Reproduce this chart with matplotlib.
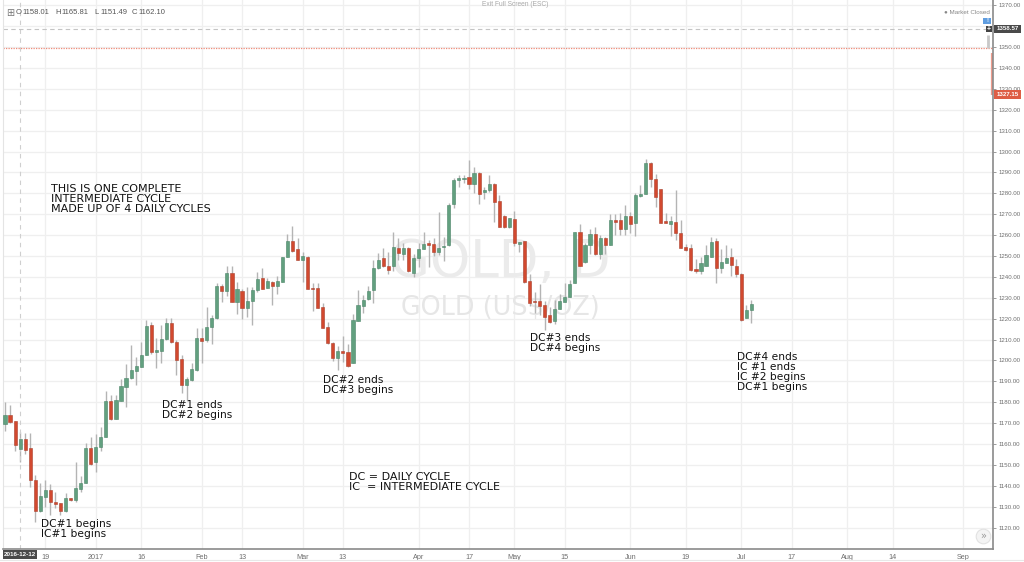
import matplotlib
matplotlib.use("Agg")
import matplotlib.pyplot as plt
from matplotlib.lines import Line2D
from matplotlib.patches import Rectangle

# ---- daily candles (one value per bar) ----
opens = [
    1169.5, 1173.9, 1170.9, 1157.8, 1162.4, 1158.0, 1142.8, 1128.0, 1134.5, 1137.9,
    1132.3, 1131.6, 1127.8, 1134.0, 1133.3, 1138.5, 1141.6, 1158.0, 1151.6, 1158.5,
    1163.6, 1180.5, 1172.2, 1180.8, 1187.5, 1191.5, 1195.1, 1197.0, 1202.8, 1216.8,
    1203.9, 1204.7, 1210.1, 1217.8, 1208.9, 1200.6, 1188.3, 1190.7, 1195.5, 1210.8,
    1209.8, 1215.9, 1220.2, 1235.7, 1233.4, 1241.7, 1228.2, 1233.4, 1225.1, 1228.3,
    1233.5, 1239.5, 1234.8, 1237.5, 1235.5, 1237.7, 1249.7, 1257.0, 1253.2, 1248.2,
    1249.4, 1234.7, 1234.7, 1225.4, 1215.9, 1208.4, 1201.0, 1204.5, 1203.9, 1199.0,
    1219.0, 1226.1, 1229.4, 1233.9, 1244.2, 1248.9, 1245.0, 1245.4, 1253.8, 1250.9,
    1253.8, 1242.0, 1249.2, 1253.5, 1256.0, 1255.9, 1251.9, 1254.1, 1255.2, 1274.9,
    1286.3, 1287.0, 1287.6, 1284.6, 1289.7, 1280.4, 1281.6, 1284.3, 1276.1, 1269.0,
    1263.9, 1267.8, 1255.9, 1257.0, 1237.9, 1228.6, 1228.6, 1226.4, 1221.9, 1218.9,
    1224.8, 1228.1, 1230.5, 1237.1, 1261.3, 1246.9, 1255.2, 1260.3, 1251.1, 1258.4,
    1255.4, 1267.2, 1267.4, 1263.1, 1269.0, 1265.6, 1278.8, 1279.8, 1294.6, 1287.0,
    1281.9, 1266.9, 1265.4, 1266.2, 1260.8, 1254.1, 1253.6, 1243.9, 1242.6, 1245.4,
    1249.7, 1257.0, 1244.2, 1246.8, 1249.3, 1245.0, 1241.5, 1220.5, 1224.1,
]
highs = [
    1180.3, 1178.7, 1171.0, 1166.0, 1165.2, 1165.5, 1145.2, 1141.6, 1142.8, 1140.9,
    1137.3, 1131.6, 1136.4, 1134.2, 1151.3, 1144.7, 1160.4, 1163.6, 1164.7, 1168.3,
    1185.4, 1183.5, 1183.5, 1191.0, 1198.3, 1207.4, 1201.8, 1209.0, 1219.4, 1218.3,
    1210.6, 1217.0, 1220.2, 1220.2, 1209.8, 1202.6, 1192.3, 1199.0, 1215.4, 1215.4,
    1225.8, 1221.8, 1236.9, 1236.6, 1245.2, 1245.2, 1237.4, 1234.2, 1235.0, 1235.0,
    1242.5, 1244.1, 1239.3, 1238.0, 1240.4, 1249.7, 1260.5, 1264.3, 1258.8, 1252.0,
    1250.1, 1237.2, 1237.2, 1227.3, 1218.6, 1209.0, 1206.9, 1211.7, 1207.7, 1222.2,
    1233.7, 1231.3, 1235.6, 1248.1, 1251.6, 1253.7, 1252.0, 1261.3, 1258.4, 1256.4,
    1254.4, 1250.9, 1256.4, 1261.3, 1257.6, 1258.4, 1271.2, 1258.9, 1275.5, 1287.1,
    1288.7, 1288.7, 1295.9, 1292.7, 1290.3, 1283.2, 1288.7, 1284.8, 1279.2, 1269.6,
    1268.2, 1271.5, 1256.8, 1257.3, 1241.4, 1232.9, 1236.6, 1228.6, 1225.7, 1228.9,
    1231.8, 1237.2, 1238.5, 1261.6, 1265.3, 1256.0, 1262.7, 1264.0, 1260.0, 1258.9,
    1269.9, 1270.0, 1270.4, 1274.4, 1271.2, 1280.0, 1283.9, 1296.2, 1295.0, 1289.2,
    1282.0, 1270.7, 1269.1, 1281.6, 1267.2, 1255.6, 1255.7, 1248.4, 1249.7, 1255.2,
    1259.2, 1258.4, 1253.3, 1255.2, 1253.6, 1248.5, 1242.0, 1226.5, 1228.9,
]
lows = [
    1166.3, 1170.0, 1156.7, 1151.6, 1155.1, 1139.3, 1122.9, 1127.7, 1130.1, 1126.1,
    1129.3, 1126.1, 1127.7, 1133.0, 1132.5, 1137.2, 1141.2, 1150.0, 1146.5, 1156.9,
    1163.2, 1171.5, 1171.9, 1180.5, 1177.9, 1191.0, 1188.3, 1196.7, 1202.6, 1203.0,
    1196.6, 1198.7, 1209.8, 1208.5, 1193.1, 1184.3, 1181.1, 1190.4, 1195.1, 1199.0,
    1209.0, 1207.7, 1219.7, 1228.2, 1230.9, 1227.8, 1222.3, 1219.7, 1221.0, 1217.0,
    1232.9, 1234.0, 1234.5, 1226.5, 1231.8, 1237.4, 1249.4, 1251.7, 1248.1, 1237.7,
    1234.0, 1223.7, 1225.0, 1215.4, 1207.9, 1199.9, 1195.4, 1199.4, 1197.0, 1198.6,
    1218.7, 1222.6, 1228.9, 1227.3, 1243.6, 1244.9, 1241.4, 1243.0, 1248.1, 1248.1,
    1242.5, 1240.1, 1244.9, 1253.2, 1244.6, 1250.0, 1250.5, 1247.7, 1254.8, 1272.8,
    1282.8, 1284.8, 1281.9, 1280.0, 1274.9, 1277.1, 1280.8, 1266.4, 1263.7, 1263.5,
    1263.5, 1254.8, 1252.0, 1236.9, 1226.0, 1222.5, 1221.7, 1214.6, 1218.1, 1217.4,
    1224.5, 1228.0, 1230.2, 1236.9, 1245.2, 1246.5, 1250.9, 1250.5, 1248.5, 1250.9,
    1255.2, 1260.0, 1260.0, 1260.0, 1260.8, 1259.6, 1278.4, 1279.5, 1282.8, 1273.6,
    1265.6, 1265.6, 1259.5, 1257.6, 1253.6, 1252.5, 1243.0, 1242.0, 1241.4, 1245.2,
    1249.3, 1236.9, 1242.0, 1246.5, 1240.4, 1239.8, 1219.0, 1220.2, 1218.1,
]
closes = [
    1173.9, 1170.7, 1159.6, 1162.4, 1157.2, 1142.8, 1128.2, 1135.0, 1137.9, 1132.3,
    1131.3, 1128.2, 1134.0, 1133.2, 1138.8, 1141.2, 1158.0, 1150.5, 1158.5, 1163.6,
    1180.5, 1172.0, 1181.0, 1187.8, 1191.5, 1195.5, 1197.4, 1202.6, 1216.5, 1203.9,
    1205.0, 1210.1, 1217.8, 1208.9, 1200.2, 1188.3, 1191.0, 1195.8, 1210.8, 1209.5,
    1216.0, 1220.3, 1235.7, 1233.4, 1241.7, 1228.2, 1234.1, 1225.0, 1228.6, 1233.7,
    1238.9, 1234.4, 1238.0, 1235.8, 1237.9, 1249.5, 1257.0, 1252.5, 1248.2, 1249.8,
    1234.4, 1234.4, 1225.3, 1215.7, 1208.2, 1201.2, 1204.4, 1203.4, 1197.4, 1219.2,
    1226.4, 1228.9, 1233.4, 1244.4, 1248.2, 1245.4, 1243.3, 1254.1, 1251.3, 1253.6,
    1243.0, 1248.9, 1253.3, 1255.7, 1255.4, 1251.9, 1253.8, 1254.8, 1274.4, 1286.3,
    1287.3, 1287.5, 1284.6, 1289.5, 1279.6, 1281.6, 1284.3, 1275.7, 1264.0, 1263.9,
    1268.2, 1256.4, 1256.8, 1237.7, 1227.3, 1228.1, 1226.2, 1220.9, 1218.6, 1224.6,
    1228.3, 1230.2, 1236.7, 1261.3, 1245.4, 1255.2, 1260.5, 1250.8, 1258.4, 1255.2,
    1267.2, 1266.4, 1262.9, 1269.0, 1265.4, 1279.2, 1279.5, 1294.3, 1287.0, 1278.2,
    1265.9, 1265.8, 1266.7, 1260.8, 1254.0, 1253.0, 1243.3, 1242.6, 1246.5, 1250.3,
    1256.5, 1244.2, 1247.1, 1248.9, 1245.5, 1241.4, 1219.4, 1224.0, 1226.9,
]

# ---- axis labels ----
date_pos = [8, 18, 27, 39, 47, 59, 67, 82, 92, 101, 111, 124, 135, 146, 156, 167, 176, 190]
date_labels = ["19", "2017", "16", "Feb", "13", "Mar", "13", "Apr", "17", "May", "15",
               "Jun", "19", "Jul", "17", "Aug", "14", "Sep"]
price_ticks = list(range(1120, 1380, 10))

# ---- notes written on the chart: (bar, price at top of text, text, font size) ----
notes = [
    (9.1, 1284.6, "THIS IS ONE COMPLETE\nINTERMEDIATE CYCLE\nMADE UP OF 4 DAILY CYCLES", 8.0),
    (7.1, 1124.3, "DC#1 begins\nIC#1 begins", 7.7),
    (31.1, 1181.3, "DC#1 ends\nDC#2 begins", 7.7),
    (63.1, 1193.2, "DC#2 ends\nDC#3 begins", 7.7),
    (104.1, 1213.3, "DC#3 ends\nDC#4 begins", 7.7),
    (145.2, 1204.2, "DC#4 ends\nIC #1 ends\nIC #2 begins\nDC#1 begins", 7.7),
    (68.2, 1146.8, "DC = DAILY CYCLE\nIC  = INTERMEDIATE CYCLE", 8.0),
]

W, H = 1024, 562
GREEN, GREEN_EDGE = "#62a07f", "#4b8568"
RED, RED_EDGE = "#d2492f", "#ab412e"
AXIS_GREY = "#8a8a8a"
TICK_GREY = "#6e6e6e"


def fx(px):
    return px / W


def fy(py):
    return 1 - py / H


fig = plt.figure(figsize=(W / 100, H / 100), dpi=100, facecolor="white")
ax = fig.add_axes([fx(3), fy(549), fx(990), 549 / H])
ax.set_xlim(-0.4, 195.9)
ax.set_ylim(1109.8, 1372.5)
ax.set_axisbelow(True)

# grid and ticks (the 1360 label sits hidden under the price flag)
ax.set_yticks(price_ticks)
ax.set_yticklabels(["" if p == 1360 else f"{p:.2f}" for p in price_ticks], fontsize=4.4,
                   color=TICK_GREY, family="Liberation Sans")
ax.set_xticks(date_pos)
ax.set_xticklabels(date_labels, fontsize=5.2, color=TICK_GREY, family="Liberation Sans")
ax.grid(True, color="#efefef", linewidth=0.9)
ax.yaxis.tick_right()
ax.tick_params(axis="y", length=2.5, width=0.6, color=AXIS_GREY, pad=1.5)
ax.tick_params(axis="x", length=0, pad=3.5)
ax.spines["top"].set_visible(False)
ax.spines["left"].set_color("#e4e4e4")
for name in ["right", "bottom"]:
    ax.spines[name].set_color(AXIS_GREY)
    ax.spines[name].set_linewidth(1.2)

# watermark
ax.text(98.2, 1240, "GOLD, D", fontsize=37, color="#ebebeb", ha="center", va="baseline",
        family="DejaVu Sans", zorder=1)
ax.text(98.2, 1221.8, "GOLD (US$/OZ)", fontsize=18.4, color="#e6e6e6", ha="center",
        va="baseline", family="DejaVu Sans", zorder=1)

# candles
bars = list(range(len(opens)))
bodies_low = [min(o, c) for o, c in zip(opens, closes)]
bodies_h = [max(abs(c - o), 0.4) for o, c in zip(opens, closes)]
face = [GREEN if c >= o else RED for o, c in zip(opens, closes)]
edge = [GREEN_EDGE if c >= o else RED_EDGE for o, c in zip(opens, closes)]
ax.vlines(bars, lows, highs, color="#b4b4b4", linewidth=1.0, zorder=2)
ax.bar(bars, bodies_h, bottom=bodies_low, width=0.62, color=face, edgecolor=edge,
       linewidth=0.4, zorder=3)

# crosshair and last price lines
ax.axvline(3, color="#cfcfcf", linestyle=(0, (4, 4)), linewidth=0.8, zorder=2)
ax.axhline(1358.57, color="#c4c4c4", linestyle=(0, (4, 3)), linewidth=0.8, zorder=2)
ax.axhline(1349.6, color="#ef8a78", linestyle=(0, (1, 1)), linewidth=0.9, zorder=2)
ax.vlines(194.9, 1349.6, 1355.7, color="#c8c8c8", linewidth=2, zorder=2)
ax.vlines(195.8, 1327.15, 1347, color="#ee9c8d", linewidth=1.6, zorder=2)

# notes
for bar, price, txt, size in notes:
    ax.text(bar, price, txt, fontsize=size, color="#111111", va="top", ha="left",
            linespacing=1.03, family="DejaVu Sans", zorder=6)

# toolbar text along the top
fig.text(fx(6), fy(13), "\u229e", fontsize=7, color="#777777", va="center",
         family="DejaVu Sans")
ohlc = ["O", "1158.01", "H", "1165.81", "L", "1151.49", "C", "1162.10"]
ohlc_x = [16, 22, 55, 61, 94, 100, 132, 138]
for px, s in zip(ohlc_x, ohlc):
    fig.text(fx(px), fy(13), s, fontsize=5.5, color="#555555", va="center",
             family="Liberation Sans")
fig.text(fx(990), fy(13), "\u25cf Market Closed", fontsize=4.5, color="#888888", ha="right",
         va="center", family=["Liberation Sans", "DejaVu Sans"])
fig.text(fx(515), fy(4), "Exit Full Screen (ESC)", fontsize=4.8, color="#a8a8a8",
         ha="center", va="center", family="Liberation Sans")


# boxes on the axes
def px_box(x0, y0, w, h, color, z=8):
    fig.add_artist(Rectangle((fx(x0), fy(y0 + h)), w / W, h / H, transform=fig.transFigure,
                             facecolor=color, edgecolor="none", zorder=z))


def box_text(px, py, s, color="white", size=4.4):
    fig.text(fx(px), fy(py), s, fontsize=size, color=color, ha="center", va="center",
             family="Liberation Sans", fontweight="bold", zorder=9)


px_box(983, 18, 8, 6, "#5f9de0")
box_text(987, 21, "!", size=4.4)
px_box(986, 26, 6, 6, "#444444")
box_text(989, 29, "+", size=5)
px_box(994, 25, 27, 8, "#4a4a4a")
box_text(1007.5, 29, "1358.57")
px_box(994, 90, 27, 9, "#de5e45")
box_text(1007.5, 94.5, "1327.15")
px_box(3, 550, 34, 9, "#4a4a4a")
box_text(20, 554.5, "2016-12-12", size=4.5)

# scroll button at bottom right, and the page edge under the time axis
ax.plot([193.9], [1116], marker="o", markersize=10.5, markerfacecolor="#f4f4f4",
        markeredgecolor="#e2e2e2", markeredgewidth=0.8, zorder=7, clip_on=False)
fig.text(fx(983), fy(536), "\u00bb", fontsize=7, color="#999999", ha="center", va="center",
         family="DejaVu Sans", zorder=9)
fig.add_artist(Line2D([0, 1], [fy(560), fy(560)], transform=fig.transFigure,
                      color="#e8e8e8", linewidth=0.8))

fig.savefig("out.png", dpi=100)
